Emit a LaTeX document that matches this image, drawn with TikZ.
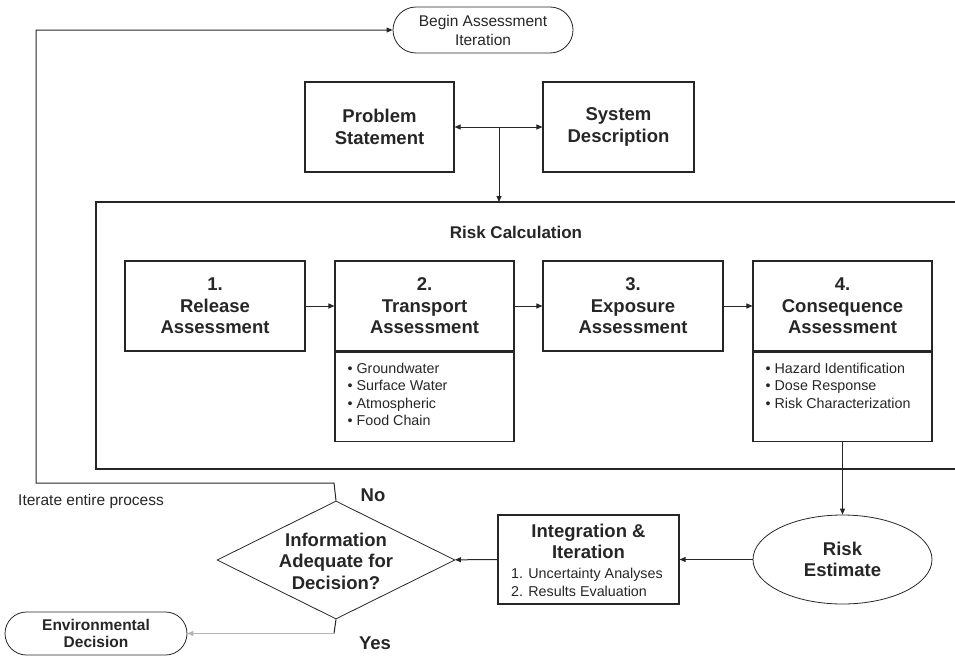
\documentclass[tikz,border=0pt]{standalone}
\usepackage{fontspec}
\setmainfont{Liberation Sans}
\usetikzlibrary{shapes.geometric,arrows.meta}
\definecolor{ink}{HTML}{262626}
\definecolor{lightline}{HTML}{B4B4B4}
\begin{document}
\begin{tikzpicture}[x=1pt,y=-1pt,
  lw/.style={line width=1.1pt},
  box/.style={draw=ink, lw, text=ink, align=center, inner sep=0pt},
  tfont/.style={font=\bfseries\fontsize{18.5}{21.5}\selectfont},
  sfont/.style={font=\fontsize{14.3}{17.5}\selectfont},
  mfont/.style={font=\fontsize{15.5}{19}\selectfont},
  stad/.style={draw=ink, line width=0.8pt, text=ink, align=center, inner sep=0pt},
  tip/.tip={Triangle[length=6pt,width=5pt]},
  arr/.style={-tip, draw=ink, line width=1pt},
  txt/.style={text=ink, inner sep=0pt, align=left}
]
\useasboundingbox (0,0) rectangle (955,656);

% top
\node[stad, mfont, minimum width=180pt, minimum height=46pt, rounded corners=23pt] (begin) at (483,30) {Begin Assessment\\Iteration};
\node[box, tfont, minimum width=149pt, minimum height=90pt] (prob) at (379.5,127) {Problem\\Statement};
\node[box, tfont, minimum width=151pt, minimum height=90pt] (sys) at (618.5,127) {System\\Description};
\coordinate (junc) at (499,127);
\coordinate (rctop) at (499,202);
\draw[arr, tip-tip] (prob) -- (sys);
\draw[arr] (junc) -- (rctop);

% risk calculation frame (open on the right, cut by the page edge)
\coordinate (rcNE) at (958,202);
\coordinate (rcNW) at (96,202);
\coordinate (rcSW) at (96,469);
\coordinate (rcSE) at (958,469);
\draw[ink, lw] (rcNE) -- (rcNW) -- (rcSW) -- (rcSE);
\node[txt, font=\bfseries\fontsize{17}{20}\selectfont] (rctitle) at (516,232) {Risk Calculation};

% row of assessment boxes
\node[box, tfont, minimum width=180pt, minimum height=90pt] (b1) at (215,306) {1.\\Release\\Assessment};
\node[box, tfont, minimum width=179pt, minimum height=90pt] (b2) at (424.5,306) {2.\\Transport\\Assessment};
\node[box, tfont, minimum width=180pt, minimum height=90pt] (b3) at (633,306) {3.\\Exposure\\Assessment};
\node[box, tfont, minimum width=179pt, minimum height=90pt] (b4) at (842.5,306) {4.\\Consequence\\Assessment};
\node[box, minimum width=179pt, minimum height=89pt, anchor=north] (b2low) at (b2.south) {};
\node[box, minimum width=179pt, minimum height=89pt, anchor=north] (b4low) at (b4.south) {};
\node[txt, sfont, anchor=north west] (b2list) at ([shift={(13,11)}]b2low.north west)
  {\textbullet\ Groundwater\\\textbullet\ Surface Water\\\textbullet\ Atmospheric\\\textbullet\ Food Chain};
\node[txt, sfont, anchor=north west] (b4list) at ([shift={(13,11)}]b4low.north west)
  {\textbullet\ Hazard Identification\\\textbullet\ Dose Response\\\textbullet\ Risk Characterization};
\draw[arr] (b1) -- (b2);
\draw[arr] (b2) -- (b3);
\draw[arr] (b3) -- (b4);

% bottom row
\node[ellipse, draw=ink, line width=0.8pt, text=ink, tfont, align=center, inner sep=0pt,
      minimum width=179pt, minimum height=89pt] (risk) at (842.5,559.5) {Risk\\Estimate};
\draw[arr] (b4low) -- (risk);

\node[box, minimum width=181pt, minimum height=89pt] (integ) at (588.5,559.5) {};
\node[txt, tfont, align=center] (integtitle) at (588.5,541.5) {Integration \&\\Iteration};
\node[txt, sfont, anchor=north west] (integlist) at (511,568) {1. Uncertainty Analyses\\2. Results Evaluation};
\draw[arr] (risk) -- (integ);

\node[diamond, draw=ink, line width=0.8pt, aspect=2.02, minimum width=238pt, minimum height=118pt, inner sep=0pt] (dec) at (336,560) {};
\node[txt, tfont, align=center] (dectext) at (336,561) {Information\\Adequate for\\Decision?};
\draw[arr] (integ) -- (dec);

% No branch: loop back to the start
\coordinate (loopR) at (334,483);
\coordinate (loopL) at (36,483);
\coordinate (loopT) at (36,30);
\draw[arr] (dec.north) -- (loopR) -- (loopL) -- (loopT) -- (begin.west);
\node[txt, tfont] (no) at (373,495) {No};
\node[txt, mfont] (iter) at (91,501) {Iterate entire process};

% Yes branch
\node[stad, font=\bfseries\fontsize{15.5}{17}\selectfont, minimum width=182pt, minimum height=43pt, rounded corners=21.5pt] (env) at (96,633.5) {Environmental\\Decision};
\coordinate (yescorner) at (334,633.5);
\draw[ink, line width=1pt] (dec.south) -- (yescorner);
\draw[-tip, draw=lightline, line width=1pt] (yescorner) -- (env.east);
\node[txt, tfont] (yes) at (375,643) {Yes};
\end{tikzpicture}
\end{document}
